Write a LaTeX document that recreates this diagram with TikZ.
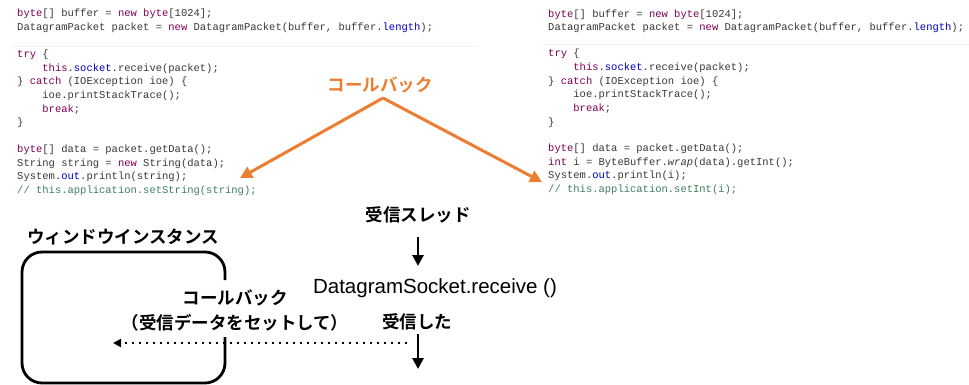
\documentclass[tikz,border=0pt]{standalone}
\usepackage{fontspec}
\usetikzlibrary{arrows.meta}
\newfontfamily\codefont{Liberation Mono}
\newfontfamily\jpfont{Noto Sans CJK JP}[BoldFont={* Bold}]
\newfontfamily\latinfont{Liberation Sans}

\definecolor{kwcol}{RGB}{127,0,85}
\definecolor{fldcol}{RGB}{0,0,192}
\definecolor{cmtcol}{RGB}{63,127,95}
\definecolor{callout}{RGB}{237,125,49}

\newcommand\kw[1]{\textcolor{kwcol}{#1}}
\newcommand\fld[1]{\textcolor{fldcol}{#1}}
\newcommand\cmt[1]{\textcolor{cmtcol}{#1}}

\tikzset{
  code/.style={anchor=west, inner sep=0pt, text=black!78,
    font=\codefont\fontsize{10.5}{12}\selectfont},
  jplabel/.style={inner sep=0pt, font=\jpfont\bfseries\fontsize{17.5}{20}\selectfont},
  flowarrow/.style={line width=2.8pt, -{Triangle[length=11pt,width=11pt]}},
  callarrow/.style={draw=callout, line width=3pt, -{Triangle[length=12pt,width=12pt]}},
  divider/.style={draw=black!5, line width=0.6pt},
}

\begin{document}
\begin{tikzpicture}[x=1pt, y=-1pt]
\useasboundingbox (0,0) rectangle (969,385);

% ---- receive loop printing a string ----
\draw[divider] (12,46) -- (478,46);
\node[code] (l1)  at (17,14)    {\kw{byte}[] buffer = \kw{new} \kw{byte}[1024];};
\node[code] (l2)  at (17,27.6)  {DatagramPacket packet = \kw{new} DatagramPacket(buffer, buffer.\fld{length});};
\node[code] (l3)  at (17,54.8)  {\kw{try} \{};
\node[code] (l4)  at (42.2,68.4){\kw{this}.\fld{socket}.receive(packet);};
\node[code] (l5)  at (17,82)    {\} \kw{catch} (IOException ioe) \{};
\node[code] (l6)  at (42.2,95.6){ioe.printStackTrace();};
\node[code] (l7)  at (42.2,109.2){\kw{break};};
\node[code] (l8)  at (17,122.8) {\}};
\node[code] (l9)  at (17,150)   {\kw{byte}[] data = packet.getData();};
\node[code] (l10) at (17,163.6) {String string = \kw{new} String(data);};
\node[code] (l11) at (17,177.2) {System.\fld{out}.println(string);};
\node[code] (l12) at (17,190.8) {\cmt{// this.application.setString(string);}};

% ---- receive loop printing an int ----
\draw[divider] (542,44) -- (969,44);
\node[code] (r1)  at (548,14.5)   {\kw{byte}[] buffer = \kw{new} \kw{byte}[1024];};
\node[code] (r2)  at (548,28)     {DatagramPacket packet = \kw{new} DatagramPacket(buffer, buffer.\fld{length});};
\node[code] (r3)  at (548,53.5)   {\kw{try} \{};
\node[code] (r4)  at (573.2,68)   {\kw{this}.\fld{socket}.receive(packet);};
\node[code] (r5)  at (548,81.8)   {\} \kw{catch} (IOException ioe) \{};
\node[code] (r6)  at (573.2,95.2) {ioe.printStackTrace();};
\node[code] (r7)  at (573.2,108.6){\kw{break};};
\node[code] (r8)  at (548,122.5)  {\}};
\node[code] (r9)  at (548,148.5)  {\kw{byte}[] data = packet.getData();};
\node[code] (r10) at (548,162.5)  {\kw{int} i = ByteBuffer.\textit{wrap}(data).getInt();};
\node[code] (r11) at (548,176.2)  {System.\fld{out}.println(i);};
\node[code] (r12) at (548,190)    {\cmt{// this.application.setInt(i);}};

% ---- callout into both code blocks ----
\node[jplabel, text=callout] (cb) at (380,85) {コールバック};
\coordinate (apex) at (383,98);
\coordinate (tipL) at (240,178);
\coordinate (tipR) at (542,182);
\draw[callarrow] (apex) -- (tipL);
\draw[callarrow] (apex) -- (tipR);

% ---- receiver thread flow ----
\node[jplabel] (thread) at (418,215) {受信スレッド};
\node[inner sep=0pt, font=\latinfont\fontsize{20.5}{24}\selectfont] (recv) at (435,288) {DatagramSocket.receive ()};
\node[jplabel] (got) at (417,322) {受信した};
\coordinate (t1a) at (418,237);
\coordinate (t1b) at (418,266);
\coordinate (t2a) at (418,334);
\coordinate (t2b) at (418,369);
\draw[flowarrow] (t1a) -- (t1b);
\draw[flowarrow] (t2a) -- (t2b);

% ---- window instance (open on the right for the callback) ----
\node[jplabel] (win) at (123,237) {ウィンドウインスタンス};
\draw[line width=2.8pt, rounded corners=20pt]
  (225,280) -- (225,252) -- (22,252) -- (22,383) -- (225,383) -- (225,337);

\node[jplabel] (cbtext) at (235,298) {コールバック};
\node[jplabel] (cbnote) at (235,323) {（受信データをセットして）};
\coordinate (dotR) at (407,343);
\coordinate (dotL) at (113,343);
\draw[line width=2.4pt, dash pattern=on 2.4pt off 4.6pt,
      -{Triangle[length=8pt,width=8pt]}] (dotR) -- (dotL);
\end{tikzpicture}
\end{document}
